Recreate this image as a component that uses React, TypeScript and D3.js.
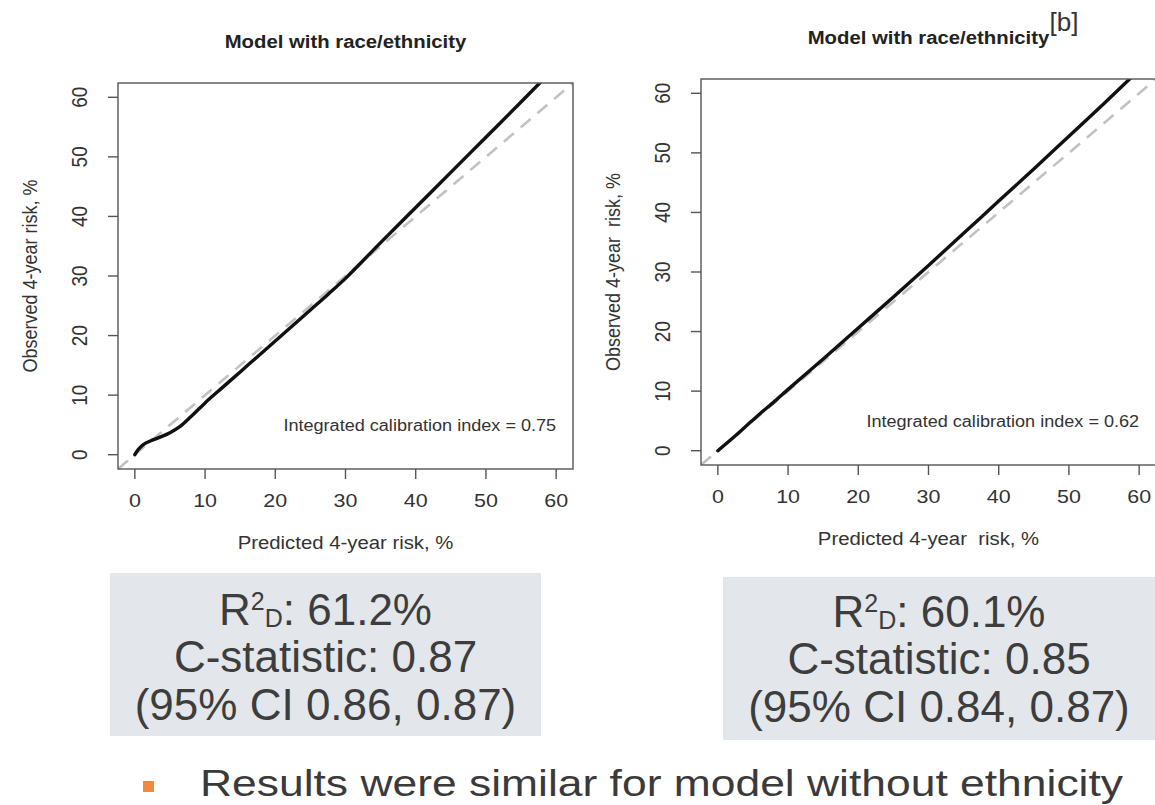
import React from 'react'
import * as d3 from 'd3'

// axis limits shared by both calibration plots (R adds 4% padding on each side)
const axisLimits = [0, 60]
const axisTicks = [0, 10, 20, 30, 40, 50, 60]

// calibration curve, model on the left
const leftPredicted = [0, 0.5, 1.2, 2.2, 3.5, 5, 6.5, 8, 10, 12.5, 15, 17.5, 20, 22.5, 25, 27.5, 30, 35, 40, 45, 50, 55, 58]
const leftObserved = [0, 0.9, 1.7, 2.3, 2.9, 3.7, 4.8, 6.4, 8.7, 11.3, 13.9, 16.5, 19.1, 21.7, 24.3, 26.9, 29.6, 35.6, 41.5, 47.4, 53.3, 59.2, 62.8]

// calibration curve, model on the right
const rightPredicted = [0, 2, 4, 6, 8, 10, 15, 20, 25, 30, 35, 40, 45, 50, 55, 59]
const rightObserved = [0, 2.0, 4.1, 6.2, 8.2, 10.3, 15.4, 20.6, 25.8, 31.1, 36.5, 41.9, 47.3, 52.8, 58.3, 62.8]

const panelTitles = ['Model with race/ethnicity', 'Model with race/ethnicity']
const titleNotes = ['', '[b]']
const xLabels = ['Predicted 4-year risk, %', 'Predicted 4-year\u00a0 risk, %']
const yLabels = ['Observed 4-year risk, %', 'Observed 4-year\u00a0 risk, %']
const calibrationIndex = ['0.75', '0.62']

const r2d = ['61.2%', '60.1%']
const cStatistic = ['0.87', '0.85']
const confInterval = ['0.86, 0.87', '0.84, 0.87']
const bulletText = 'Results were similar for model without ethnicity'

const FONT = '"Liberation Sans", Arial, Helvetica, sans-serif'
const STRETCH = 1.13 // the plot images are a bit wider than tall

function T({ x, y, rot, size, anchor, weight, fill, children }: any) {
  return (
    <text
      transform={`translate(${x},${y}) scale(${STRETCH},1)${rot ? ' rotate(-90)' : ''}`}
      fontSize={size}
      textAnchor={anchor || 'middle'}
      fontWeight={weight || 'normal'}
      fill={fill || '#333'}
      fontFamily={FONT}
    >
      {children}
    </text>
  )
}

function Panel({ idx, left, top, pred, obs }: any) {
  const w = 455
  const h = 386
  const pad = (axisLimits[1] - axisLimits[0]) * 0.04
  const dom = [axisLimits[0] - pad, axisLimits[1] + pad]
  const x = d3.scaleLinear().domain(dom).range([left, left + w])
  const y = d3.scaleLinear().domain(dom).range([top + h, top])

  const pts: [number, number][] = pred.map((p: number, i: number) => [p, obs[i]])
  const curvePath = d3.line<[number, number]>()
    .x(d => x(d[0]))
    .y(d => y(d[1]))
    .curve(d3.curveCatmullRom.alpha(0.5))(pts)
  const diagPath = d3.line()(dom.map(v => [x(v), y(v)] as [number, number]))

  const cx = left + w / 2
  const cy = top + h / 2
  const clipId = 'clip' + idx

  return (
    <g>
      <defs>
        <clipPath id={clipId}>
          <rect x={left} y={top} width={w} height={h} />
        </clipPath>
      </defs>

      <g clipPath={`url(#${clipId})`} fill="none">
        <path d={diagPath || ''} stroke="#c2c2c2" strokeWidth={2.6} strokeDasharray="13 9" />
        <path d={curvePath || ''} stroke="#111" strokeWidth={3.4} strokeLinejoin="round" strokeLinecap="round" />
      </g>

      <rect x={left} y={top} width={w} height={h} fill="none" stroke="#555" strokeWidth={1.4} />

      {axisTicks.map(t => (
        <g key={'x' + t}>
          <line x1={x(t)} x2={x(t)} y1={top + h} y2={top + h + 10} stroke="#555" strokeWidth={1.4} />
          <T x={x(t)} y={top + h + 38} size={19}>{t}</T>
        </g>
      ))}
      {axisTicks.map(t => (
        <g key={'y' + t}>
          <line x1={left - 10} x2={left} y1={y(t)} y2={y(t)} stroke="#555" strokeWidth={1.4} />
          <T x={left - 31} y={y(t)} size={19} rot>{t}</T>
        </g>
      ))}

      <T x={cx} y={top + h + 80} size={18}>{xLabels[idx]}</T>
      <T x={left - 81} y={cy} size={18} rot>{yLabels[idx]}</T>
      <T x={cx} y={top - 35} size={18} weight="bold" fill="#222">{panelTitles[idx]}</T>
      {titleNotes[idx] && (
        <text x={cx + 121} y={31} fontSize={26} fill="#333" fontFamily={FONT}>{titleNotes[idx]}</text>
      )}

      <T x={x(60)} y={y(5) + 6} size={16} anchor="end">
        {'Integrated calibration index = ' + calibrationIndex[idx]}
      </T>
    </g>
  )
}

function StatBox({ idx, left, top, width, baseline }: any) {
  const cx = left + width / 2
  return (
    <g fontFamily={FONT} fill="#3d3d3d" textAnchor="middle">
      <rect x={left} y={top} width={width} height={163} fill="#e3e7eb" />
      <text x={cx} y={baseline} fontSize={44}>
        R<tspan dy={-15} fontSize={25}>2</tspan>
        <tspan dy={17} fontSize={25}>D</tspan>
        <tspan dy={-2}>{': ' + r2d[idx]}</tspan>
      </text>
      <text x={cx} y={baseline + 47} fontSize={44}>{'C-statistic: ' + cStatistic[idx]}</text>
      <text x={cx} y={baseline + 95} fontSize={44}>{'(95% CI ' + confInterval[idx] + ')'}</text>
    </g>
  )
}

export default function App() {
  return (
    <svg width={1155} height={805} style={{ position: 'absolute', left: 0, top: 0, background: '#fff' }}>
      <rect width={1155} height={805} fill="#fff" />
      <Panel idx={0} left={118} top={83} pred={leftPredicted} obs={leftObserved} />
      <Panel idx={1} left={701} top={79} pred={rightPredicted} obs={rightObserved} />

      <StatBox idx={0} left={110} top={573} width={431} baseline={625} />
      <StatBox idx={1} left={723} top={577} width={432} baseline={627} />

      <rect x={143} y={781} width={11} height={11} fill="#ef8a3f" />
      <text x={200} y={796} fontSize={37} fill="#3a3a3a" fontFamily={FONT}
        textLength={923} lengthAdjust="spacingAndGlyphs">
        {bulletText}
      </text>
    </svg>
  )
}
